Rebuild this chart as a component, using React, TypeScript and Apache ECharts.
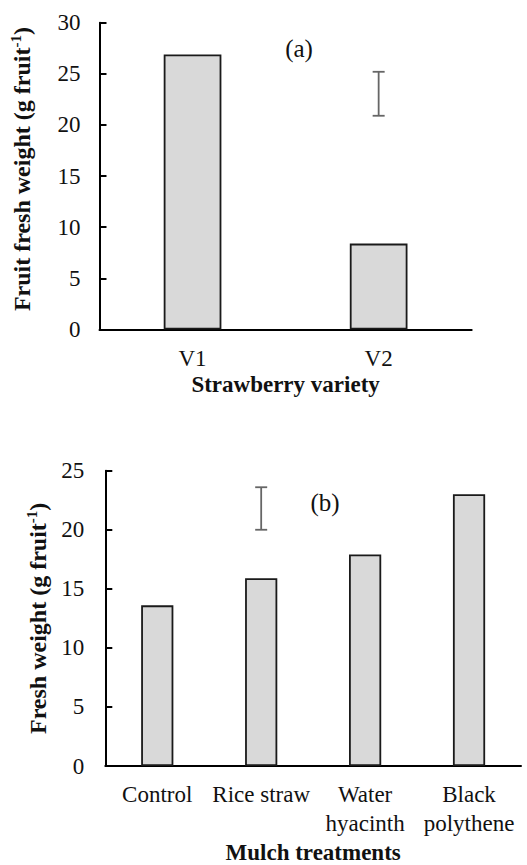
import React, { useEffect, useRef } from "react";
import * as echarts from "echarts";

const varietyCategories = ["V1", "V2"];
const varietyWeights = [26.9, 8.4];
const varietyErrorIndex = 1;
const varietyErrorRange = [20.9, 25.2];

const mulchCategories = ["Control", "Rice straw", "Water\nhyacinth", "Black\npolythene"];
const mulchWeights = [13.6, 15.9, 17.9, 23.0];
const mulchErrorIndex = 1;
const mulchErrorRange = [20.0, 23.6];

const FONT = "'Liberation Serif', 'Times New Roman', serif";

export default function App() {
  const ref = useRef<HTMLDivElement>(null);
  useEffect(() => {
    if (!ref.current) return;
    const chart = echarts.init(ref.current, null, { renderer: "svg" });

    const errRender = (params: any, api: any) => {
      const x = api.value(0);
      const lo = api.coord([x, api.value(1)]);
      const hi = api.coord([x, api.value(2)]);
      const cap = 6;
      const style = { stroke: "#666", lineWidth: 1.8 };
      return {
        type: "group",
        children: [
          { type: "line", shape: { x1: lo[0], y1: lo[1], x2: hi[0], y2: hi[1] }, style },
          { type: "line", shape: { x1: hi[0] - cap, y1: hi[1], x2: hi[0] + cap, y2: hi[1] }, style },
          { type: "line", shape: { x1: lo[0] - cap, y1: lo[1], x2: lo[0] + cap, y2: lo[1] }, style },
        ],
      };
    };

    const axisLine = { lineStyle: { color: "#000", width: 2 } };
    const tick = { inside: true, length: 7, lineStyle: { color: "#000", width: 2 } };
    const labelStyle = { color: "#111", fontFamily: FONT, fontSize: 23 };
    const nameRich = {
      b: { fontFamily: FONT, fontSize: 24, fontWeight: "bold", color: "#111", lineHeight: 27 },
      sup: { fontFamily: FONT, fontSize: 15, fontWeight: "bold", color: "#111", verticalAlign: "top", lineHeight: 27 },
    };

    chart.setOption({
      animation: false,
      grid: [
        { left: 99.5, top: 22.7, width: 372.2, height: 306.8 },
        { left: 105.3, top: 470.7, width: 415.7, height: 299.3 },
      ],
      xAxis: [
        {
          type: "category",
          gridIndex: 0,
          data: varietyCategories,
          axisLine,
          axisTick: tick,
          axisLabel: { ...labelStyle, margin: 14, lineHeight: 29 },
          name: "Strawberry variety",
          nameLocation: "middle",
          nameGap: 41,
          nameTextStyle: { fontFamily: FONT, fontSize: 23, fontWeight: "bold", color: "#111" },
        },
        {
          type: "category",
          gridIndex: 1,
          data: mulchCategories,
          axisLine,
          axisTick: tick,
          axisLabel: { ...labelStyle, margin: 14, lineHeight: 29, interval: 0 },
          name: "Mulch treatments",
          nameLocation: "middle",
          nameGap: 75,
          nameTextStyle: { fontFamily: FONT, fontSize: 23, fontWeight: "bold", color: "#111" },
        },
      ],
      yAxis: [
        {
          type: "value",
          gridIndex: 0,
          min: 0,
          max: 30,
          interval: 5,
          axisLine: { show: true, ...axisLine },
          axisTick: { show: true, ...tick },
          axisLabel: { ...labelStyle, margin: 19 },
          splitLine: { show: false },
          name: "{b|Fruit fresh weight (g fruit}{sup|-1}{b|)}",
          nameLocation: "middle",
          nameGap: 64,
          nameRotate: 90,
          nameTextStyle: { rich: nameRich, padding: [0, 0, 0, 14] },
        },
        {
          type: "value",
          gridIndex: 1,
          min: 0,
          max: 25,
          interval: 5,
          axisLine: { show: true, ...axisLine },
          axisTick: { show: true, ...tick },
          axisLabel: { ...labelStyle, margin: 21 },
          splitLine: { show: false },
          name: "{b|Fresh weight (g fruit}{sup|-1}{b|)}",
          nameLocation: "middle",
          nameGap: 51,
          nameRotate: 90,
          nameTextStyle: { rich: nameRich },
        },
      ],
      graphic: [
        {
          type: "text",
          x: 299,
          y: 48,
          style: { text: "(a)", fontFamily: FONT, fontSize: 25, fill: "#111", align: "center", verticalAlign: "middle" },
        },
        {
          type: "text",
          x: 325,
          y: 502,
          style: { text: "(b)", fontFamily: FONT, fontSize: 25, fill: "#111", align: "center", verticalAlign: "middle" },
        },
      ],
      series: [
        {
          type: "bar",
          xAxisIndex: 0,
          yAxisIndex: 0,
          data: varietyWeights,
          barWidth: "31%",
          itemStyle: { color: "#d9d9d9", borderColor: "#1a1a1a", borderWidth: 1.8 },
        },
        {
          type: "bar",
          xAxisIndex: 1,
          yAxisIndex: 1,
          data: mulchWeights,
          barWidth: "31%",
          itemStyle: { color: "#d9d9d9", borderColor: "#1a1a1a", borderWidth: 1.8 },
        },
        {
          type: "custom",
          xAxisIndex: 0,
          yAxisIndex: 0,
          renderItem: errRender,
          encode: { x: 0, y: [1, 2] },
          data: [[varietyErrorIndex, varietyErrorRange[0], varietyErrorRange[1]]],
          z: 5,
        },
        {
          type: "custom",
          xAxisIndex: 1,
          yAxisIndex: 1,
          renderItem: errRender,
          encode: { x: 0, y: [1, 2] },
          data: [[mulchErrorIndex, mulchErrorRange[0], mulchErrorRange[1]]],
          z: 5,
        },
      ],
    });
    return () => chart.dispose();
  }, []);
  return (
    <div
      ref={ref}
      style={{ position: "absolute", left: 0, top: 0, width: 527, height: 865, background: "#fff" }}
    />
  );
}
